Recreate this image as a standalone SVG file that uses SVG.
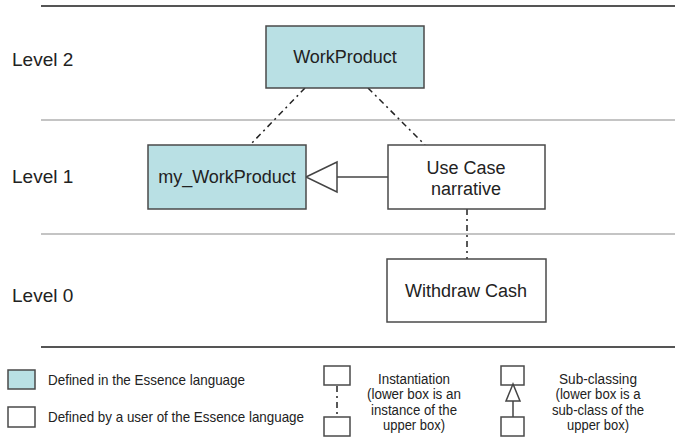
<svg xmlns="http://www.w3.org/2000/svg" width="675" height="438" viewBox="0 0 675 438">
<style>
text{font-family:"Liberation Sans",Arial,sans-serif;fill:#222}
.lbl{font-size:19px}
.node{font-size:18px;text-anchor:middle}
.leg{font-size:14.5px}
.legc{font-size:14px;text-anchor:middle}
.box{stroke:#4a4a4a;stroke-width:1.5}
.ess{fill:#b9e0e4}
.usr{fill:#fff}
.dark{stroke:#555;stroke-width:2}
.light{stroke:#c4c4c4;stroke-width:2}
.inst{stroke:#222;stroke-width:1.5;stroke-dasharray:6 4 2 4;fill:none}
.sub{stroke:#444;stroke-width:1.5;fill:#fff}
</style>
<g id="levels">
<line class="dark" x1="41" y1="6" x2="675" y2="6"/>
<line class="light" x1="41" y1="120" x2="675" y2="120"/>
<line class="light" x1="41" y1="234" x2="675" y2="234"/>
<line class="dark" x1="41" y1="347" x2="675" y2="347"/>
<text class="lbl" x="12" y="66">Level 2</text>
<text class="lbl" x="12" y="183">Level 1</text>
<text class="lbl" x="12" y="302">Level 0</text>
</g>
<g id="connectors">
<line class="inst" x1="305" y1="88" x2="250" y2="145"/>
<line class="inst" x1="368" y1="88" x2="425" y2="145"/>
<line class="inst" x1="467" y1="209" x2="467" y2="259"/>
<line class="sub" x1="337" y1="177" x2="388" y2="177"/>
<polygon class="sub" points="306,177 337,162 337,192"/>
</g>
<g id="WorkProduct">
<rect class="box ess" x="266" y="26" width="158" height="62"/>
<text class="node" x="345" y="63">WorkProduct</text>
</g>
<g id="my_WorkProduct">
<rect class="box ess" x="148" y="145" width="158" height="64"/>
<text class="node" x="227" y="183">my_WorkProduct</text>
</g>
<g id="UseCaseNarrative">
<rect class="box usr" x="388" y="145" width="157" height="64"/>
<text class="node" x="466" y="174">Use Case</text>
<text class="node" x="466" y="195">narrative</text>
</g>
<g id="WithdrawCash">
<rect class="box usr" x="387" y="259" width="159" height="63"/>
<text class="node" x="466" y="297">Withdraw Cash</text>
</g>
<g id="legend">
<rect class="box ess" x="8" y="370" width="27" height="19" stroke-width="1.2"/>
<text class="leg" x="48" y="385" textLength="197" lengthAdjust="spacingAndGlyphs">Defined in the Essence language</text>
<rect class="box usr" x="8" y="407" width="27" height="20"/>
<text class="leg" x="48" y="422" textLength="256" lengthAdjust="spacingAndGlyphs">Defined by a user of the Essence language</text>
<rect class="box usr" x="324" y="366" width="26" height="19"/>
<line class="inst" x1="337" y1="386" x2="337" y2="417" stroke-dasharray="2 5 6 5"/>
<rect class="box usr" x="324" y="417" width="26" height="19"/>
<text class="legc" x="414" y="384" textLength="72" lengthAdjust="spacingAndGlyphs">Instantiation</text>
<text class="legc" x="414" y="399" textLength="94" lengthAdjust="spacingAndGlyphs">(lower box is an</text>
<text class="legc" x="414" y="415" textLength="86" lengthAdjust="spacingAndGlyphs">instance of the</text>
<text class="legc" x="414" y="430" textLength="62" lengthAdjust="spacingAndGlyphs">upper box)</text>
<rect class="box usr" x="501" y="366" width="23" height="19"/>
<line class="sub" x1="513" y1="401" x2="513" y2="417"/>
<polygon class="sub" points="513,384 506,401 520,401"/>
<rect class="box usr" x="501" y="417" width="23" height="19"/>
<text class="legc" x="598" y="384" textLength="78" lengthAdjust="spacingAndGlyphs">Sub-classing</text>
<text class="legc" x="598" y="399" textLength="85" lengthAdjust="spacingAndGlyphs">(lower box is a</text>
<text class="legc" x="598" y="415" textLength="92" lengthAdjust="spacingAndGlyphs">sub-class of the</text>
<text class="legc" x="598" y="430" textLength="62" lengthAdjust="spacingAndGlyphs">upper box)</text>
</g>
</svg>
